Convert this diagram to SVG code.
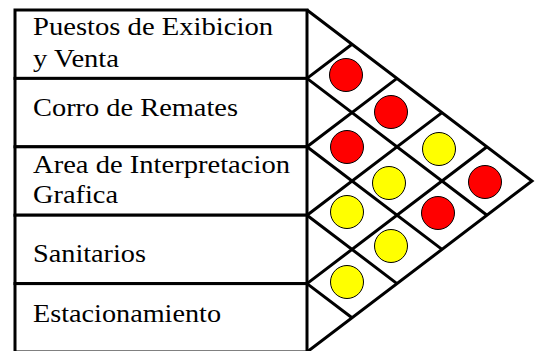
<svg xmlns="http://www.w3.org/2000/svg" width="535" height="351" viewBox="0 0 535 351">
<style>
.box{fill:#fff;stroke:#000;stroke-width:3}
.lbl{font-family:'Liberation Serif','Times New Roman',serif;font-size:26px;fill:#000}
.grid{stroke:#000;stroke-width:3;fill:none;stroke-linejoin:miter}
.red{fill:#f00;stroke:#000;stroke-width:1}
.yel{fill:#ff0;stroke:#000;stroke-width:1}
</style>
<rect width="535" height="351" fill="#fff"/>
<g id="row-puestos">
<rect class="box" x="15" y="10" width="292" height="68.4"/>
<text class="lbl" x="33" y="35" textLength="240" lengthAdjust="spacingAndGlyphs">Puestos de Exibicion</text>
<text class="lbl" x="33" y="67" textLength="86" lengthAdjust="spacingAndGlyphs">y Venta</text>
</g>
<g id="row-corro">
<rect class="box" x="15" y="78.4" width="292" height="68.4"/>
<text class="lbl" x="33" y="116" textLength="205" lengthAdjust="spacingAndGlyphs">Corro de Remates</text>
</g>
<g id="row-area">
<rect class="box" x="15" y="146.8" width="292" height="68.4"/>
<text class="lbl" x="33" y="173" textLength="257" lengthAdjust="spacingAndGlyphs">Area de Interpretacion</text>
<text class="lbl" x="33" y="203" textLength="85" lengthAdjust="spacingAndGlyphs">Grafica</text>
</g>
<g id="row-sanitarios">
<rect class="box" x="15" y="215.2" width="292" height="68.4"/>
<text class="lbl" x="33" y="262" textLength="113" lengthAdjust="spacingAndGlyphs">Sanitarios</text>
</g>
<g id="row-estacionamiento">
<rect class="box" x="15" y="283.6" width="292" height="68.4"/>
<text class="lbl" x="33" y="322" textLength="188" lengthAdjust="spacingAndGlyphs">Estacionamiento</text>
</g>
<g id="connectors" class="grid">
<path d="M307,10 L532,181 L307,352"/>
<path d="M307,78.4 L487,215.2 M307,146.8 L442,249.4 M307,215.2 L397,283.6 M307,283.6 L352,317.8"/>
<path d="M307,78.4 L352,44.2 M307,146.8 L397,78.4 M307,215.2 L442,112.6 M307,283.6 L487,146.8"/>
</g>
<g id="cells">
<circle id="c01" class="red" cx="346" cy="75" r="16.5"/>
<circle id="c02" class="red" cx="391" cy="112" r="16.5"/>
<circle id="c12" class="red" cx="347" cy="147" r="16.5"/>
<circle id="c03" class="yel" cx="439" cy="149" r="16.5"/>
<circle id="c04" class="red" cx="485" cy="182" r="16.5"/>
<circle id="c13" class="yel" cx="389" cy="183" r="16.5"/>
<circle id="c23" class="yel" cx="347" cy="212" r="16.5"/>
<circle id="c14" class="red" cx="438" cy="213" r="16.5"/>
<circle id="c24" class="yel" cx="391" cy="246" r="16.5"/>
<circle id="c34" class="yel" cx="347" cy="282" r="16.5"/>
</g>
</svg>
